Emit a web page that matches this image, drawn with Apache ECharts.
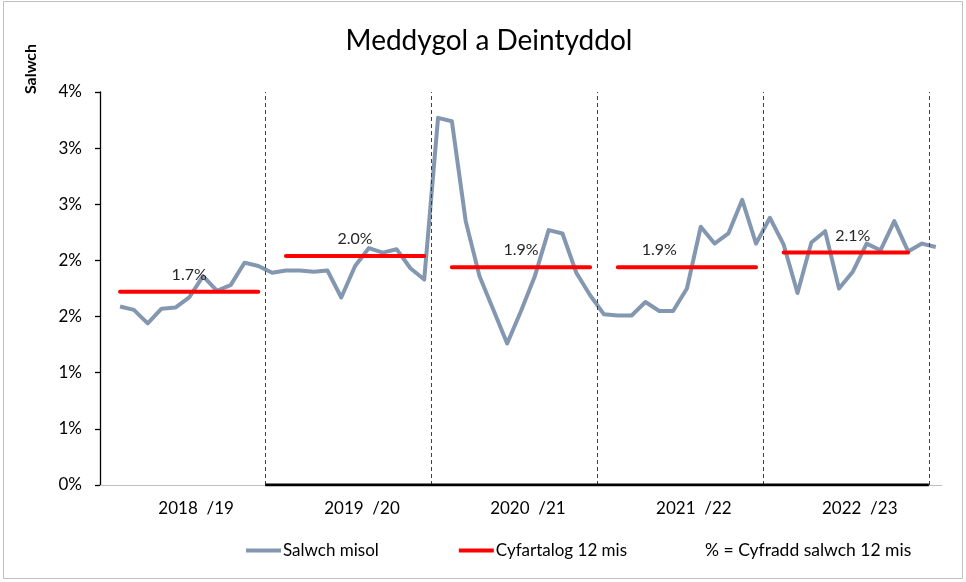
<!DOCTYPE html>
<html>
<head>
<meta charset="utf-8">
<script src="https://cdn.jsdelivr.net/npm/echarts@6/dist/echarts.min.js"></script>
<style>
  html, body { margin: 0; padding: 0; background: #ffffff; }
  #chart { width: 966px; height: 582px; }
</style>
</head>
<body>
<div id="chart"></div>
<script>
// Financial years shown along the bottom axis
const financialYears = ['2018  /19', '2019  /20', '2020  /21', '2021  /22', '2022  /23'];

// Monthly sickness rate (%), April 2018 onwards
const monthlyRate = [
  1.59, 1.56, 1.44, 1.57, 1.58, 1.67, 1.86, 1.73, 1.78, 1.98, 1.95, 1.89,
  1.91, 1.91, 1.90, 1.91, 1.67, 1.95, 2.11, 2.07, 2.10, 1.93, 1.83, 3.27,
  3.24, 2.35, 1.86, 1.56, 1.26, 1.55, 1.86, 2.27, 2.24, 1.89, 1.69, 1.52,
  1.51, 1.51, 1.63, 1.55, 1.55, 1.75, 2.30, 2.15, 2.24, 2.54, 2.15, 2.38,
  2.14, 1.71, 2.16, 2.26, 1.75, 1.90, 2.15, 2.09, 2.35, 2.08, 2.15, 2.12
];

// 12-month average per financial year (%)
const yearAverage = [1.72, 2.04, 1.94, 1.94, 2.07];

// First and last month over which each yearly average is drawn
const averageSpan = [[0, 10], [12, 22], [24, 34], [36, 46], [48, 57]];
// Month carrying the rate label for each year
const averageLabelMonth = [5, 17, 29, 39, 53];

// Y axis tick labels (0% to 3.5% in half-percent steps, shown rounded)
const yTickLabels = ['0%', '1%', '1%', '2%', '2%', '3%', '3%', '4%'];

const MONTHS_PER_YEAR = 12;
const FONT = 'Lato, "Noto Sans", sans-serif';
const GREY = '#8497B0';
const RED = '#FF0000';

const monthlyData = monthlyRate.map((v, i) => [i, v]);

const averageData = [];
yearAverage.forEach((avg, k) => {
  const [first, last] = averageSpan[k];
  for (let i = first; i <= last; i++) {
    const item = { value: [i, avg] };
    if (i === averageLabelMonth[k]) item.label = { show: true };
    averageData.push(item);
  }
  averageData.push([last + 0.5, '-']);
});

const yearBoundaries = financialYears.map((_, k) => (k + 1) * MONTHS_PER_YEAR - 1.5);
const yearCentres = financialYears.map((_, k) => k * MONTHS_PER_YEAR + 5.5);

const chart = echarts.init(document.getElementById('chart'), null, { renderer: 'canvas' });

chart.setOption({
  animation: false,
  backgroundColor: '#ffffff',
  textStyle: { fontFamily: FONT },
  title: {
    text: 'Meddygol a Deintyddol',
    left: 484,
    top: 22,
    textAlign: 'center',
    textStyle: { fontFamily: FONT, fontSize: 28, fontWeight: 'normal', color: '#000000' }
  },
  grid: { left: 100, right: 24, top: 92, bottom: 97, outerBoundsMode: 'none' },
  legend: {
    data: ['Salwch misol', 'Cyfartalog 12 mis'],
    left: 246,
    top: 542,
    padding: 0,
    itemWidth: 35,
    itemHeight: 4,
    itemGap: 80,
    icon: 'rect',
    selectedMode: false,
    textStyle: { fontFamily: FONT, fontSize: 17, color: '#000000', padding: [0, 0, 0, -3] }
  },
  xAxis: {
    type: 'value',
    min: -1.45,
    max: 59.45,
    splitLine: { show: false },
    axisLine: { show: true, onZero: false, lineStyle: { color: '#BFBFBF', width: 1 } },
    axisTick: { show: false },
    axisLabel: {
      customValues: yearCentres,
      margin: 15,
      fontFamily: FONT,
      fontSize: 17,
      color: '#000000',
      formatter: (v) => financialYears[Math.round((v - 5.5) / MONTHS_PER_YEAR)]
    }
  },
  yAxis: {
    type: 'value',
    min: 0,
    max: 3.5,
    interval: 0.5,
    splitLine: { show: false },
    axisLine: { show: true, onZero: false, lineStyle: { color: '#000000', width: 1.3 } },
    axisTick: { show: true, length: 5, lineStyle: { color: '#000000', width: 1.3 } },
    axisLabel: {
      margin: 18,
      fontFamily: FONT,
      fontSize: 17,
      color: '#000000',
      formatter: (v, i) => yTickLabels[i]
    }
  },
  series: [
    {
      name: 'Salwch misol',
      type: 'line',
      data: monthlyData,
      symbol: 'none',
      itemStyle: { color: GREY },
      lineStyle: { color: GREY, width: 4, join: 'round' },
      z: 3,
      markLine: {
        silent: true,
        symbol: 'none',
        label: { show: false },
        lineStyle: { color: '#404040', width: 1, type: [4, 3] },
        data: yearBoundaries.map((x) => ({ xAxis: x }))
      }
    },
    {
      name: 'Cyfartalog 12 mis',
      type: 'line',
      data: averageData,
      symbol: 'circle',
      symbolSize: 0.1,
      showSymbol: true,
      showAllSymbol: true,
      connectNulls: false,
      itemStyle: { color: RED },
      lineStyle: { color: RED, width: 4, cap: 'round' },
      z: 4,
      label: {
        show: false,
        position: 'top',
        distance: 9,
        fontFamily: FONT,
        fontSize: 16,
        color: '#262626',
        formatter: (p) => p.value[1].toFixed(1) + '%'
      }
    },
    {
      name: 'baseline',
      type: 'line',
      data: [[yearBoundaries[0], 0], [yearBoundaries[yearBoundaries.length - 1], 0]],
      symbol: 'none',
      silent: true,
      lineStyle: { color: '#000000', width: 3 },
      z: 5
    }
  ],
  graphic: [
    {
      type: 'rect',
      shape: { x: 3.5, y: 1.5, width: 959, height: 577 },
      style: { fill: 'none', stroke: '#BFBFBF', lineWidth: 1 },
      silent: true,
      z: -1
    },
    {
      type: 'text',
      x: 31,
      y: 69,
      rotation: Math.PI / 2,
      style: {
        text: 'Salwch',
        fontFamily: FONT,
        fontSize: 16,
        fontWeight: 'bold',
        fill: '#000000',
        align: 'center',
        verticalAlign: 'middle'
      }
    },
    {
      type: 'text',
      x: 705,
      y: 550,
      style: {
        text: '% = Cyfradd salwch 12 mis',
        fontFamily: FONT,
        fontSize: 17.5,
        fill: '#000000',
        align: 'left',
        verticalAlign: 'middle'
      }
    }
  ]
});
</script>
</body>
</html>
